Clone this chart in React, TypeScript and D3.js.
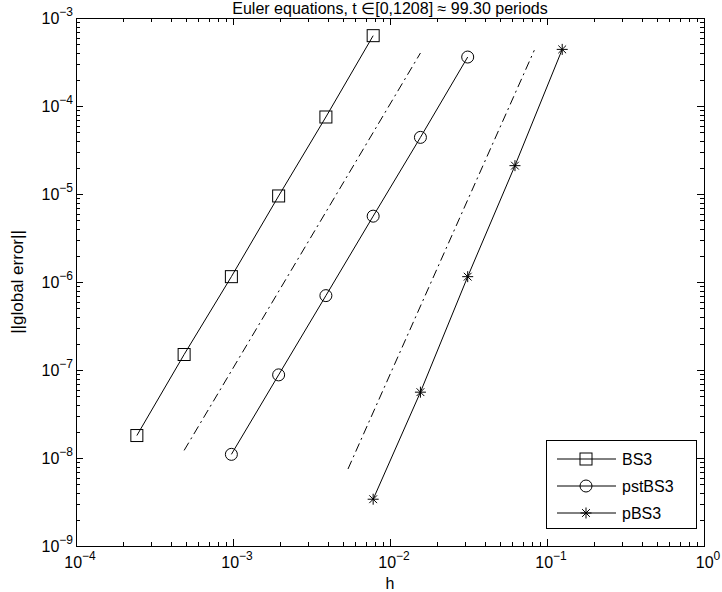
import React, { useRef, useEffect } from "react";
import * as d3 from "d3";

// step sizes and errors
const hBS3 = [2.441e-4, 4.883e-4, 9.766e-4, 1.953e-3, 3.906e-3, 7.8125e-3];
const errBS3 = [1.8e-8, 1.5e-7, 1.15e-6, 9.5e-6, 7.5e-5, 6.3e-4];

const hPst = [9.766e-4, 1.953e-3, 3.906e-3, 7.8125e-3, 1.5625e-2, 3.125e-2];
const errPst = [1.1e-8, 8.8e-8, 7.0e-7, 5.6e-6, 4.4e-5, 3.6e-4];

const hP = [7.8125e-3, 1.5625e-2, 3.125e-2, 6.25e-2, 0.125];
const errP = [3.4e-9, 5.6e-8, 1.15e-6, 2.1e-5, 4.4e-4];

// dash-dot reference slopes
const hRef3 = [4.883e-4, 1.5625e-2];
const errRef3 = [1.22e-8, 4.0e-4];
const hRef4 = [5.4e-3, 8.3e-2];
const errRef4 = [7.5e-9, 4.3e-4];

const xDecades = [-4, -3, -2, -1, 0];
const yDecades = [-9, -8, -7, -6, -5, -4, -3];
const legendNames = ["BS3", "pstBS3", "pBS3"];

const W = 722, H = 592;
const left = 76, right = 704, top = 18, bottom = 546;
const FONT = "'Liberation Sans', Arial, Helvetica, sans-serif";

function App() {
  const svgRef = useRef(null);

  useEffect(() => {
    const svg = d3.select(svgRef.current);
    svg.selectAll("*").remove();

    const x = d3.scaleLog().domain([1e-4, 1]).range([left, right]);
    const y = d3.scaleLog().domain([1e-9, 1e-3]).range([bottom, top]);

    const g = svg.append("g");

    // ticks (inside, on all four sides)
    const ticks = g.append("g").attr("stroke", "#000").attr("stroke-width", 1);
    const minorMult = [2, 3, 4, 5, 6, 7, 8, 9];
    xDecades.forEach((e, i) => {
      const v = Math.pow(10, e);
      const px = Math.round(x(v)) + 0.5;
      [[bottom, -7], [top, 7]].forEach(([y0, len]) =>
        ticks.append("line").attr("x1", px).attr("x2", px).attr("y1", y0).attr("y2", y0 + len));
      if (i < xDecades.length - 1) {
        minorMult.forEach((m) => {
          const mx = Math.round(x(v * m)) + 0.5;
          [[bottom, -4], [top, 4]].forEach(([y0, len]) =>
            ticks.append("line").attr("x1", mx).attr("x2", mx).attr("y1", y0).attr("y2", y0 + len));
        });
      }
    });
    yDecades.forEach((e, i) => {
      const v = Math.pow(10, e);
      const py = Math.round(y(v)) + 0.5;
      [[left, 7], [right, -7]].forEach(([x0, len]) =>
        ticks.append("line").attr("y1", py).attr("y2", py).attr("x1", x0).attr("x2", x0 + len));
      if (i < yDecades.length - 1) {
        minorMult.forEach((m) => {
          const my = Math.round(y(v * m)) + 0.5;
          [[left, 4], [right, -4]].forEach(([x0, len]) =>
            ticks.append("line").attr("y1", my).attr("y2", my).attr("x1", x0).attr("x2", x0 + len));
        });
      }
    });

    // box
    g.append("rect")
      .attr("x", left + 0.5).attr("y", top + 0.5)
      .attr("width", right - left).attr("height", bottom - top)
      .attr("fill", "none").attr("stroke", "#000").attr("stroke-width", 1);

    // tick labels as 10^e
    const addPow = (sel, e, anchor) => {
      const t = sel.append("text")
        .attr("font-family", FONT).attr("font-size", 16).attr("text-anchor", anchor);
      t.append("tspan").text("10");
      t.append("tspan").attr("font-size", 12).attr("dy", -8).text(e === 0 ? "0" : "\u2212" + Math.abs(e));
      return t;
    };
    xDecades.forEach((e) => {
      addPow(g, e, "middle").attr("x", x(Math.pow(10, e)) + 4).attr("y", 568);
    });
    yDecades.forEach((e) => {
      addPow(g, e, "end").attr("x", left - 3).attr("y", y(Math.pow(10, e)) + 6);
    });

    // axis labels + title
    g.append("text").attr("x", (left + right) / 2).attr("y", 589)
      .attr("text-anchor", "middle").attr("font-family", FONT).attr("font-size", 16).text("h");
    g.append("text")
      .attr("transform", `translate(23,${(top + bottom) / 2}) rotate(-90)`)
      .attr("text-anchor", "middle").attr("font-family", FONT).attr("font-size", 17)
      .text("||global error||");
    g.append("text").attr("x", (left + right) / 2).attr("y", 14)
      .attr("text-anchor", "middle").attr("font-family", FONT).attr("font-size", 16)
      .text("Euler equations, t \u2208[0,1208] \u2248 99.30 periods");

    const line = d3.line().x((d) => x(d[0])).y((d) => y(d[1]));

    // reference lines
    [[hRef3, errRef3], [hRef4, errRef4]].forEach(([hs, es]) => {
      g.append("path")
        .attr("d", line(d3.zip(hs, es)))
        .attr("fill", "none").attr("stroke", "#000").attr("stroke-width", 1)
        .attr("stroke-dasharray", "9,4,2,4");
    });

    const series = [
      { h: hBS3, e: errBS3, marker: "square" },
      { h: hPst, e: errPst, marker: "circle" },
      { h: hP, e: errP, marker: "star" },
    ];

    const drawMarker = (sel, kind, cx, cy) => {
      if (kind === "square") {
        sel.append("rect").attr("x", cx - 6).attr("y", cy - 6).attr("width", 12).attr("height", 12)
          .attr("fill", "none").attr("stroke", "#000");
      } else if (kind === "circle") {
        sel.append("circle").attr("cx", cx).attr("cy", cy).attr("r", 6)
          .attr("fill", "none").attr("stroke", "#000");
      } else {
        const r = 5.5;
        const d = [0, 45, 90, 135].map((a) => {
          const rad = (a * Math.PI) / 180;
          const dx = r * Math.cos(rad), dy = r * Math.sin(rad);
          return `M${cx - dx},${cy - dy}L${cx + dx},${cy + dy}`;
        }).join("");
        sel.append("path").attr("d", d).attr("stroke", "#000").attr("stroke-width", 1);
      }
    };

    series.forEach((s) => {
      const pts = d3.zip(s.h, s.e);
      g.append("path").attr("d", line(pts))
        .attr("fill", "none").attr("stroke", "#000").attr("stroke-width", 1);
      pts.forEach((p) => drawMarker(g, s.marker, x(p[0]), y(p[1])));
    });

    // legend
    const lg = g.append("g");
    lg.append("rect").attr("x", 546.5).attr("y", 440.5).attr("width", 150).attr("height", 88)
      .attr("fill", "#fff").attr("stroke", "#000");
    legendNames.forEach((name, i) => {
      const ly = 459 + i * 27;
      lg.append("line").attr("x1", 557).attr("x2", 616).attr("y1", ly).attr("y2", ly)
        .attr("stroke", "#000");
      drawMarker(lg, series[i].marker, 586, ly);
      lg.append("text").attr("x", 622).attr("y", ly + 6)
        .attr("font-family", FONT).attr("font-size", 16).text(name);
    });
  }, []);

  return (
    <svg ref={svgRef} width={W} height={H}
      style={{ position: "absolute", left: 0, top: 0, background: "#fff" }} />
  );
}

export default App;
